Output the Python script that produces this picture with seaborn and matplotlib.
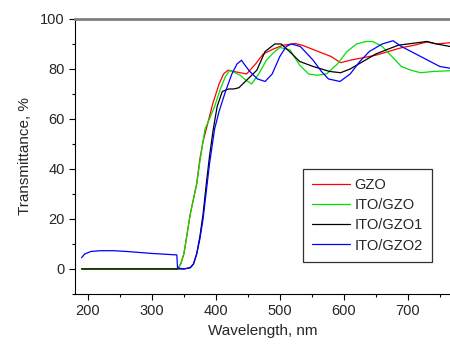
import numpy as np
import pandas as pd
import matplotlib
matplotlib.use("Agg")
import matplotlib.pyplot as plt
import seaborn as sns
from matplotlib.ticker import MultipleLocator

# GZO (red)
gzo_wl = [190, 340, 345, 350, 355, 360, 365, 370, 375, 380, 386, 395, 405, 412, 419, 428, 438, 448,
          462, 474, 490, 505, 524, 535, 550, 565, 580, 595, 610, 630, 650, 670, 690, 710, 730, 745, 766]
gzo_t = [0, 0, 2, 6, 14, 22, 28, 34, 44, 51, 57, 66, 74, 78, 79.5, 79, 78.5, 78,
         82, 86, 88, 89.5, 90.2, 89.5, 88, 86.5, 85, 82.5, 83.5, 84.5, 85.5, 87, 88.5, 89.5, 90.8, 90, 90.5]

# ITO/GZO (green)
ito_gzo_wl = [190, 340, 345, 350, 355, 360, 365, 370, 375, 383, 390, 398, 407, 415, 422, 438, 447, 456,
              467, 479, 490, 500, 516, 531, 545, 558, 573, 590, 605, 620, 635, 645, 660, 675, 690, 705, 720, 740, 766]
ito_gzo_t = [0, 0, 2, 6, 14, 22, 28, 34, 43, 56, 60, 65, 72, 77, 79.5, 77.5, 75.5, 74,
             78, 83.5, 86.5, 88.6, 87.6, 81.5, 78, 77.5, 78, 82, 87, 90, 91, 91, 89, 85, 81, 79.5, 78.5, 79, 79.3]

# ITO/GZO1 (black)
ito_gzo1_wl = [190, 340, 350, 360, 365, 370, 375, 380, 385, 390, 396, 402, 410, 420, 428, 436, 446, 456,
               464, 477, 492, 502, 515, 531, 552, 565, 578, 595, 610, 630, 650, 670, 685, 700, 715, 730, 745, 766]
ito_gzo1_t = [0, 0, 0, 0.5, 2, 6, 13, 22, 34, 45, 56, 65, 71, 72, 72, 72.5, 75, 77.5,
              79.5, 87, 90, 90, 87, 83, 81, 80, 79, 78.5, 80, 83, 86, 88, 89.5, 90, 90.5, 91, 90, 89]

# ITO/GZO2 (blue)
ito_gzo2_wl = [190, 195, 205, 220, 240, 260, 280, 300, 320, 339, 340, 350, 360, 365, 370, 375, 380, 385,
               390, 398, 405, 415, 425, 433, 440, 447, 453, 465, 477, 488, 500, 510, 518, 532, 552, 565,
               576, 594, 610, 625, 640, 660, 677, 690, 705, 720, 735, 750, 766]
ito_gzo2_t = [4.5, 6, 7, 7.3, 7.3, 7, 6.6, 6.2, 5.9, 5.6, 0.5, 0, 0.5, 2, 6, 12, 20, 31,
              42, 56, 63, 71, 78, 82, 83.5, 81, 79, 76, 75, 78, 85, 89, 90, 89, 83.5, 79,
              76, 75, 78, 83, 87, 90, 91.3, 89, 87, 85, 83, 81, 80.3]

series = [
    ("GZO", gzo_wl, gzo_t, "#ff0000"),
    ("ITO/GZO", ito_gzo_wl, ito_gzo_t, "#00e000"),
    ("ITO/GZO1", ito_gzo1_wl, ito_gzo1_t, "#000000"),
    ("ITO/GZO2", ito_gzo2_wl, ito_gzo2_t, "#0000ff"),
]

sns.set_style("ticks")
plt.rcParams["font.family"] = ["Liberation Sans", "DejaVu Sans"]

fig = plt.figure(figsize=(4.5, 3.45), dpi=100)
ax = fig.add_axes([0.167, 0.148, 0.833, 0.797])

for name, wl, t, color in series:
    df = pd.DataFrame({"Wavelength": wl, "T": t})
    sns.lineplot(data=df, x="Wavelength", y="T", color=color, linewidth=0.9,
                 label=name, ax=ax, estimator=None, sort=False)

ax.set_xlim(180, 766)
ax.set_ylim(-10, 100)
ax.xaxis.set_major_locator(MultipleLocator(100))
ax.xaxis.set_minor_locator(MultipleLocator(50))
ax.yaxis.set_major_locator(MultipleLocator(20))
ax.yaxis.set_minor_locator(MultipleLocator(10))
ax.tick_params(which="major", length=4, width=0.8, labelsize=10.5, color="black")
ax.tick_params(which="minor", length=2.5, width=0.8, color="black")

ax.spines["right"].set_visible(False)
ax.spines["top"].set_color("#808080")
ax.spines["top"].set_linewidth(2)
ax.spines["left"].set_color("black")
ax.spines["bottom"].set_color("black")

ax.set_xlabel("Wavelength, nm", fontsize=11)
ax.set_ylabel("Transmittance, %", fontsize=11, labelpad=6)

leg = ax.legend(loc="lower right", bbox_to_anchor=(0.952, 0.116), fontsize=10.5,
                frameon=True, fancybox=False, handlelength=2.6, borderpad=0.65,
                labelspacing=0.42, handletextpad=0.3, borderaxespad=0)
leg.get_frame().set_edgecolor("black")
leg.get_frame().set_linewidth(0.9)

plt.savefig("out.png", dpi=100)
